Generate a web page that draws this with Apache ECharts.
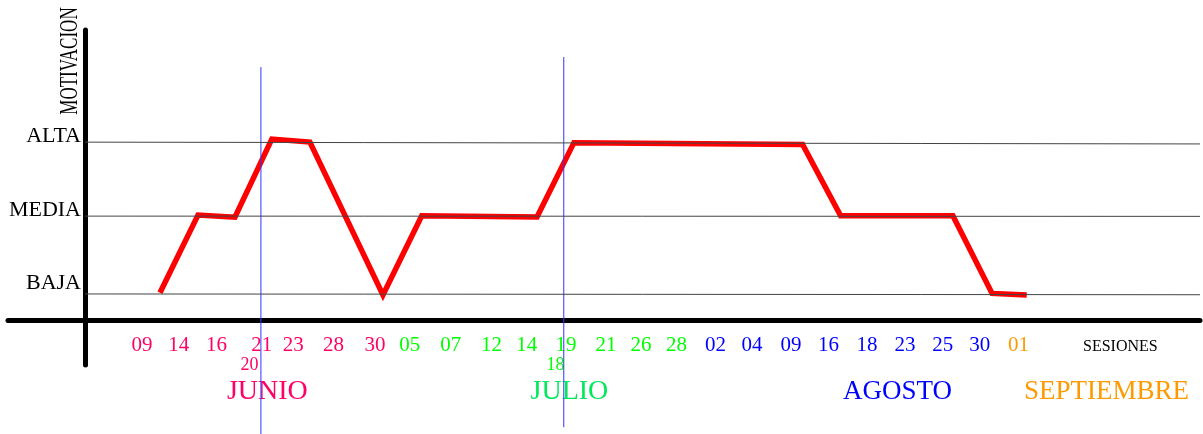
<!DOCTYPE html>
<html>
<head>
<meta charset="utf-8">
<script src="https://cdn.jsdelivr.net/npm/echarts@6/dist/echarts.min.js"></script>
<style>html,body{margin:0;padding:0;background:#fff}#c{width:1203px;height:434px}</style>
</head>
<body>
<div id="c"></div>
<script>
// ---- data ----
const sessionLabels = ['09','14','16','21','23','28','30','05','07','12','14','19','21','26','28','02','04','09','16','18','23','25','30','01'];
const sessionMonth  = [0,0,0,0,0,0,0,1,1,1,1,1,1,1,1,2,2,2,2,2,2,2,2,3];
const sessionPos    = [1.51,2.49,3.49,4.69,5.53,6.60,7.70,8.62,9.71,10.79,11.73,12.77,13.83,14.76,15.70,16.74,17.71,18.74,19.74,20.76,21.77,22.77,23.75,24.78];
const extraLabels   = ['20','18'];
const extraMonth    = [0,1];
const extraPos      = [4.37,12.49];
const monthNames    = ['JUNIO','JULIO','AGOSTO','SEPTIEMBRE'];
const monthPos      = [4.84,12.86,21.57,27.12];
const levelNames    = ['BAJA','MEDIA','ALTA'];
const levelVals     = [1.01,4.03,6.9];
const levelEnds     = [0.98,4.02,6.83];
const motivX        = [1.99,3.0,3.98,4.96,5.97,7.91,8.94,12.0,12.98,19.05,20.06,23.04,24.08,25.0];
const motivY        = [1.06,4.07,3.99,7.02,6.90,0.97,4.04,4.00,6.88,6.81,4.04,4.04,1.03,0.97];
const divider1      = [[4.67,9.81],[4.67,-4.43]];
const divider2      = [[12.71,10.2],[12.71,-4.16]];

const monthColors = ['#ff0066','#00ff00','#0000ff','#ff9900'];
const monthTitleColors = ['#ff0066','#00e85c','#0000ff','#ff9900'];
const FONT = '"Liberation Serif", "DejaVu Serif", serif';
const XMIN = -2.05, XMAX = 29.6, YMIN = -1.75, YMAX = 11.25;

function nearestIdx(arr, v){let b=0,d=1e9;arr.forEach((a,i)=>{if(Math.abs(a-v)<d){d=Math.abs(a-v);b=i;}});return b;}

const richMonths = {};
monthColors.forEach((c,i)=>{richMonths['m'+i]={color:c,fontSize:21,fontFamily:FONT};});
const richExtra = {};
monthColors.forEach((c,i)=>{richExtra['e'+i]={color:c,fontSize:18,fontFamily:FONT};});
const richTitles = {};
monthTitleColors.forEach((c,i)=>{richTitles['t'+i]={color:c,fontSize:i<2?28:27,fontFamily:FONT};});

const motivData = motivX.map((x,i)=>[x,motivY[i]]);

const chart = echarts.init(document.getElementById('c'));
chart.setOption({
  animation:false,
  backgroundColor:'#fff',
  grid:[
    // 0: plot area, origin at the crossing of the axes
    {left:85,right:3,top:30,bottom:114,outerBoundsMode:'none',containLabel:false},
    // 1: full extent of the crossing axis lines
    {left:8,right:3,top:30,bottom:69,outerBoundsMode:'none',containLabel:false}
  ],
  graphic:[{
    type:'text', x:71, y:61, rotation:Math.PI/2, scaleY:1.45,
    style:{text:'MOTIVACION', font:'17px '+FONT, fill:'#000', align:'center', verticalAlign:'middle'}
  }],
  xAxis:[
    {gridIndex:0, type:'value', position:'bottom', min:0, max:XMAX,
     axisLine:{show:false}, axisTick:{show:false}, splitLine:{show:false},
     name:'SESIONES', nameLocation:'end', nameGap:-117,
     nameTextStyle:{fontFamily:FONT,fontSize:16,color:'#000',align:'left',verticalAlign:'top',lineHeight:16,padding:[19,0,0,0]},
     axisLabel:{customValues:sessionPos, margin:15,
       formatter:(v)=>{const i=nearestIdx(sessionPos,v);return '{m'+sessionMonth[i]+'|'+sessionLabels[i]+'}';},
       rich:richMonths}
    },
    {gridIndex:0, type:'value', position:'bottom', min:0, max:XMAX,
     axisLine:{show:false}, axisTick:{show:false}, splitLine:{show:false},
     axisLabel:{customValues:extraPos, margin:36,
       formatter:(v)=>{const i=nearestIdx(extraPos,v);return '{e'+extraMonth[i]+'|'+extraLabels[i]+'}';},
       rich:richExtra}
    },
    {gridIndex:0, type:'value', position:'bottom', min:0, max:XMAX,
     axisLine:{show:false}, axisTick:{show:false}, splitLine:{show:false},
     axisLabel:{customValues:monthPos, margin:58,
       formatter:(v)=>{const i=nearestIdx(monthPos,v);return '{t'+i+'|'+monthNames[i]+'}';},
       rich:richTitles}
    },
    {gridIndex:1, type:'value', position:'bottom', min:XMIN, max:XMAX,
     axisLine:{show:true,onZero:true,lineStyle:{color:'#000',width:5}},
     axisTick:{show:false}, splitLine:{show:false}, axisLabel:{show:false}}
  ],
  yAxis:[
    {gridIndex:0, type:'value', min:0, max:YMAX,
     axisLine:{show:false}, axisTick:{show:false}, splitLine:{show:false},
     axisLabel:{customValues:levelVals, margin:4,
      formatter:(v)=>{const i=nearestIdx(levelVals,v);return '{l'+i+'|'+levelNames[i]+'}';},
      rich:{
        l0:{fontSize:22,fontFamily:FONT,color:'#000',padding:[0,0,22,0]},
        l1:{fontSize:22,fontFamily:FONT,color:'#000',padding:[0,0,11,0]},
        l2:{fontSize:22,fontFamily:FONT,color:'#000',padding:[0,0,12,0]}
      }}
    },
    {gridIndex:1, type:'value', min:YMIN, max:YMAX,
     axisLine:{show:true,onZero:true,lineStyle:{color:'#000',width:5}},
     axisTick:{show:false}, splitLine:{show:false}, axisLabel:{show:false}}
  ],
  series:[
    {type:'line', xAxisIndex:0, yAxisIndex:0, data:[], silent:true, z:1,
     markLine:{silent:true, symbol:['none','none'], label:{show:false},
       lineStyle:{color:'#444',width:1,type:'solid'},
       data: levelVals.map((v,i)=>[{coord:[0,v]},{coord:[XMAX,levelEnds[i]]}])}
    },
    {type:'line', xAxisIndex:0, yAxisIndex:0, data:motivData, symbol:'none', z:3,
     lineStyle:{color:'#ff0000',width:5.5,join:'miter'}},
    {type:'line', xAxisIndex:0, yAxisIndex:0, data:divider1, symbol:'none', clip:false, z:4,
     lineStyle:{color:'#3333ff',width:1}},
    {type:'line', xAxisIndex:0, yAxisIndex:0, data:divider2, symbol:'none', clip:false, z:4,
     lineStyle:{color:'#3333ff',width:1}}
  ]
});
</script>
</body>
</html>
